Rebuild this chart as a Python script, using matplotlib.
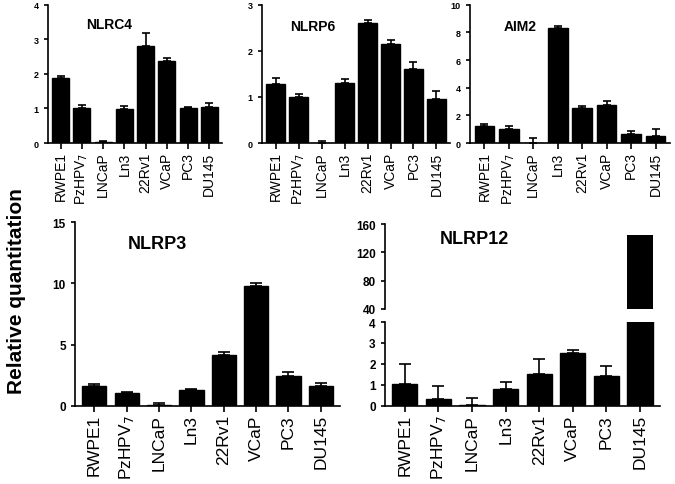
# Libraries
import numpy as np
import matplotlib.pyplot as plt

plt.rcParams['font.family'] = ['Liberation Sans', 'DejaVu Sans']

# Cell lines
lines = ['RWPE1', 'PzHPV$_7$', 'LNCaP', 'Ln3', '22Rv1', 'VCaP', 'PC3', 'DU145']

# Relative quantitation (mean, upper error)
nlrc4 = [1.88, 1.0, 0.02, 0.98, 2.82, 2.38, 1.0, 1.05]
nlrc4_err = [0.07, 0.1, 0.03, 0.1, 0.37, 0.07, 0.05, 0.1]
nlrp6 = [1.28, 1.0, 0.01, 1.3, 2.6, 2.15, 1.6, 0.95]
nlrp6_err = [0.14, 0.07, 0.03, 0.08, 0.07, 0.08, 0.16, 0.19]
aim2 = [1.25, 1.0, 0.02, 8.35, 2.5, 2.75, 0.65, 0.5]
aim2_err = [0.15, 0.22, 0.35, 0.15, 0.2, 0.27, 0.25, 0.55]
nlrp3 = [1.6, 1.05, 0.05, 1.3, 4.15, 9.8, 2.45, 1.65]
nlrp3_err = [0.15, 0.05, 0.15, 0.12, 0.25, 0.2, 0.3, 0.25]
nlrp12 = [1.05, 0.35, 0.02, 0.8, 1.5, 2.52, 1.42, 145]
nlrp12_err = [0.95, 0.6, 0.35, 0.35, 0.72, 0.15, 0.48, 0]

x = np.arange(len(lines))

fig = plt.figure(figsize=(6.75, 4.85), dpi=100)


def panel(rect, vals, errs, ylim, yticks, title, tpos, small=True, width=0.8):
    ax = fig.add_axes(rect)
    ax.bar(x, vals, width=width, color='black', edgecolor='black',
           yerr=[np.zeros(len(vals)), errs], capsize=3 if small else 4,
           error_kw=dict(elinewidth=1.2, capthick=1.2, ecolor='black'))
    ax.set_ylim(*ylim)
    ax.set_yticks(yticks)
    ax.set_xlim(-0.6, len(vals) - 0.4)
    ax.set_xticks(x)
    ax.set_xticklabels(lines, rotation=90, fontsize=10 if small else 12.5)
    for s in ['top', 'right']:
        ax.spines[s].set_visible(False)
    for s in ['left', 'bottom']:
        ax.spines[s].set_linewidth(1.2)
    ax.tick_params(axis='y', labelsize=6.5 if small else 8.5, width=1.2, length=3)
    ax.tick_params(axis='x', width=1.2, length=4, pad=2)
    for t in ax.get_yticklabels():
        t.set_fontweight('bold')
    ax.text(tpos[0], tpos[1], title, transform=ax.transAxes, fontweight='bold',
            fontsize=10 if small else 13)
    return ax


panel([0.071, 0.703, 0.258, 0.285], nlrc4, nlrc4_err, (0, 4), [0, 1, 2, 3, 4], 'NLRC4', (0.22, 0.83))
panel([0.388, 0.703, 0.279, 0.285], nlrp6, nlrp6_err, (0, 3), [0, 1, 2, 3], 'NLRP6', (0.15, 0.82))
panel([0.696, 0.703, 0.297, 0.285], aim2, aim2_err, (0, 10), [0, 2, 4, 6, 8, 10], 'AIM2', (0.17, 0.82))
panel([0.111, 0.161, 0.393, 0.379], nlrp3, nlrp3_err, (0, 15), [0, 5, 10, 15], 'NLRP3', (0.2, 0.86),
      small=False, width=0.75)

# NLRP12 with broken axis
ax_lo = panel([0.570, 0.161, 0.408, 0.173], nlrp12, nlrp12_err, (0, 4), [0, 1, 2, 3, 4], '', (0, 0),
              small=False, width=0.75)
ax_hi = fig.add_axes([0.570, 0.361, 0.408, 0.175], sharex=ax_lo)
ax_hi.bar(x, nlrp12, width=0.75, color='black')
ax_hi.set_ylim(40, 160)
ax_hi.set_yticks([40, 80, 120, 160])
for s in ['top', 'right', 'bottom']:
    ax_hi.spines[s].set_visible(False)
ax_hi.spines['left'].set_linewidth(1.2)
ax_hi.tick_params(axis='x', bottom=False, labelbottom=False)
ax_hi.tick_params(axis='y', labelsize=8.5, width=1.2, length=3)
for t in ax_hi.get_yticklabels():
    t.set_fontweight('bold')
ax_hi.text(0.2, 0.78, 'NLRP12', transform=ax_hi.transAxes, fontweight='bold', fontsize=13)

fig.text(0.025, 0.40, 'Relative quantitation', rotation=90, ha='center', va='center',
         fontsize=15, fontweight='bold')

fig.savefig('out.png', dpi=100)
